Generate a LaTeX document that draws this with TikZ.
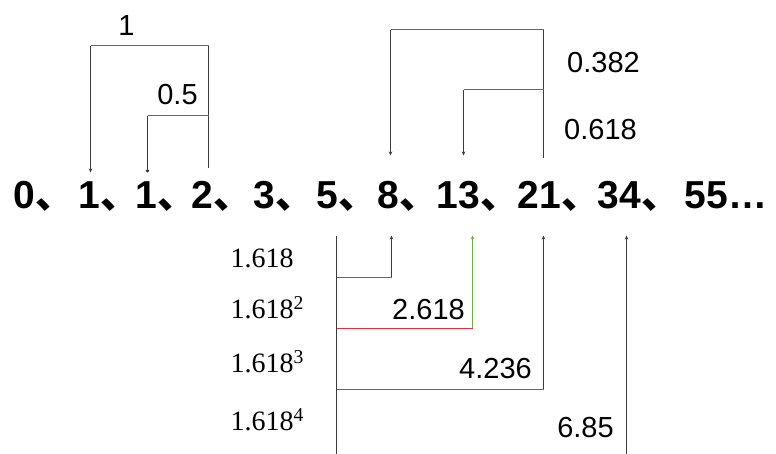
\documentclass[tikz,border=0pt]{standalone}
\usepackage{fontspec}
\setmainfont{Liberation Sans}
\newfontfamily\cjk{Noto Sans CJK SC}
\newfontfamily\tms{Liberation Serif}
\usetikzlibrary{arrows.meta,positioning}
\definecolor{stemgray}{RGB}{60,60,60}
\definecolor{barred}{RGB}{215,50,70}
\definecolor{stemgreen}{RGB}{110,175,70}
\tikzset{
  num/.style  ={font=\fontsize{39}{40}\selectfont\bfseries,inner sep=0pt,anchor=base west},
  val/.style  ={font=\fontsize{29}{31}\selectfont,inner sep=0pt},
  pw/.style   ={font=\tms\fontsize{28}{30}\selectfont,inner sep=0pt,anchor=base west},
  stem/.style ={draw=stemgray,line width=1pt},
  stemg/.style={draw=stemgreen,line width=1pt},
  redbar/.style={draw=barred,line width=1.2pt},
  ar/.style   ={-{Stealth[length=4pt,width=3.5pt]}},
  dotend/.style={-{Circle[length=3.5pt]}},
}
\newcommand{\dun}{{\cjk 、}\kern-14pt}

\begin{document}
\begin{tikzpicture}[x=1pt,y=-1pt]
  \useasboundingbox (-0.5,-0.5) rectangle (775.5,452.5);
  % the sequence
  \node[num] (n0)  at (13,208)  {0\dun};
  \node[num] (n1a) at (78,208)  {1\dun};
  \node[num] (n1b) at (135,208) {1\dun};
  \node[num] (n2)  at (191,208) {2\dun};
  \node[num] (n3)  at (253,208) {3\dun};
  \node[num] (n5)  at (316,208) {5\dun};
  \node[num] (n8)  at (377,208) {8\dun};
  \node[num] (n13) at (436,208) {13\dun};
  \node[num] (n21) at (517,208) {21\dun};
  \node[num] (n34) at (597,208) {34\dun};
  \node[num] (n55) at (684,208) {55…};

  % top left: 1 and 0.5
  \coordinate (p1) at (90,45);  \coordinate (p2) at (208,45);
  \coordinate (q1) at (147,115); \coordinate (q2) at (208,115);
  \coordinate (e1a) at (90,172); \coordinate (e1b) at (147,172);
  \coordinate (s2) at (208,167);
  \draw[stem] (s2) -- (p2);
  \draw[stem,ar] (p1) -- (e1a);
  \draw[stem,dotend] (q1) -- (e1b);
  \draw[redbar] (p1) -- (p2);
  \draw[redbar] (q1) -- (q2);
  \node[val] (l1) at (126,25) {1};
  \node[val] (l05) at (177,94) {0.5};

  % top right: 0.382 and 0.618
  \coordinate (r1) at (390,29);  \coordinate (r2) at (543,29);
  \coordinate (r3) at (463,89);  \coordinate (r4) at (543,89);
  \coordinate (e8) at (390,155); \coordinate (e13) at (463,155);
  \coordinate (s21) at (543,157);
  \draw[stem] (s21) -- (r2);
  \draw[stem,ar] (r1) -- (e8);
  \draw[stem,ar] (r3) -- (e13);
  \draw[redbar] (r1) -- (r2);
  \draw[redbar] (r3) -- (r4);
  \node[val] (l382) at (603,62) {0.382};
  \node[val] (l618) at (600,129) {0.618};

  % bottom: powers of 1.618
  \coordinate (b5) at (336,235); \coordinate (b5e) at (336,453);
  \coordinate (h8) at (336,277);  \coordinate (k8) at (391,277);  \coordinate (u8) at (391,235);
  \coordinate (h13) at (336,328); \coordinate (k13) at (472,328); \coordinate (u13) at (472,235);
  \coordinate (h21) at (336,389); \coordinate (k21) at (543,389); \coordinate (u21) at (543,235);
  \coordinate (k34) at (626,453); \coordinate (u34) at (626,235);
  \draw[stem] (b5e) -- (b5);
  \draw[stem,ar] (k8) -- (u8);
  \draw[stemg,ar] (k13) -- (u13);
  \draw[stem,ar] (k21) -- (u21);
  \draw[stem,ar] (k34) -- (u34);
  \draw[redbar] (h8) -- (k8);
  \draw[redbar] (h13) -- (k13);
  \draw[redbar] (h21) -- (k21);
  \node[pw] (g1) at (230,267) {1.618};
  \node[pw] (g2) at (230,318) {1.618\textsuperscript{2}};
  \node[pw] (g3) at (230,372) {1.618\textsuperscript{3}};
  \node[pw] (g4) at (230,430) {1.618\textsuperscript{4}};
  \node[val] (l2618) at (428,309) {2.618};
  \node[val] (l4236) at (495,368) {4.236};
  \node[val] (l685) at (585,427) {6.85};
\end{tikzpicture}
\end{document}
